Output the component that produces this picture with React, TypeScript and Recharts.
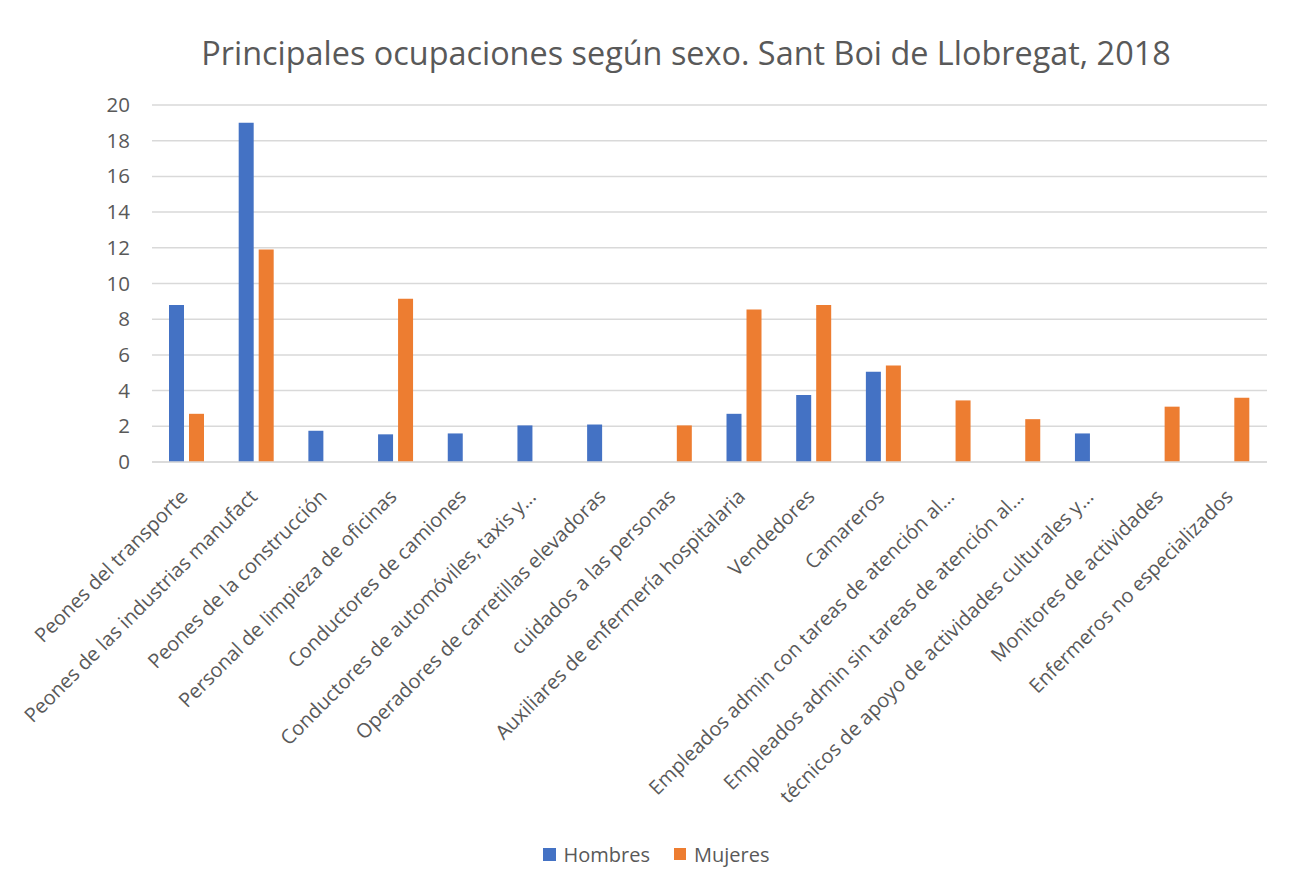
import React from 'react';
import { BarChart, Bar, XAxis, YAxis, CartesianGrid, Legend } from 'recharts';

const categories = [
  'Peones del transporte',
  'Peones de las industrias manufact',
  'Peones de la construcción',
  'Personal de limpieza de oficinas',
  'Conductores  de camiones',
  'Conductores de automóviles, taxis y...',
  'Operadores de carretillas elevadoras',
  'cuidados a las personas',
  'Auxiliares de enfermería hospitalaria',
  'Vendedores',
  'Camareros',
  'Empleados admin con tareas de atención al...',
  'Empleados admin sin tareas de atención al...',
  'técnicos de apoyo de actividades culturales y...',
  'Monitores de actividades',
  'Enfermeros no especializados',
];

const hombres: (number | null)[] = [8.8, 19, 1.75, 1.55, 1.6, 2.05, 2.1, null, 2.7, 3.75, 5.05, null, null, 1.6, null, null];
const mujeres: (number | null)[] = [2.7, 11.9, null, 9.15, null, null, null, 2.05, 8.55, 8.8, 5.4, 3.45, 2.4, null, 3.1, 3.6];

const yTicks = [0, 2, 4, 6, 8, 10, 12, 14, 16, 18, 20];

const seriesNames = { h: 'Hombres', m: 'Mujeres' };
const title = 'Principales ocupaciones según sexo. Sant Boi de Llobregat, 2018';

const data = categories.map((name, i) => ({ name, h: hombres[i], m: mujeres[i] }));

const FONT = '"Open Sans", sans-serif';
const TXT = '#595959';
const BLUE = '#4472C4';
const ORANGE = '#ED7D31';

const XTick = (props: any) => {
  const { x, y, payload } = props;
  return (
    <g transform={`translate(${x + 2},${y + 36})`}>
      <text x={0} y={0} textAnchor="end" transform="rotate(-45)" fill={TXT} fontSize={20} fontFamily={FONT}>
        {payload.value}
      </text>
    </g>
  );
};

const YTick = (props: any) => {
  const { x, y, payload } = props;
  return (
    <text x={x} y={y} dy={7} textAnchor="end" fill={TXT} fontSize={20.5} fontFamily={FONT}>
      {payload.value}
    </text>
  );
};

const LegendContent = () => (
  <div style={{ height: 30, display: 'flex', justifyContent: 'center', alignItems: 'center', paddingLeft: 18, fontFamily: FONT, fontSize: 20, color: TXT }}>
    <span style={{ display: 'inline-block', width: 13, height: 13, background: BLUE, marginRight: 8 }} />
    <span style={{ marginRight: 24 }}>{seriesNames.h}</span>
    <span style={{ display: 'inline-block', width: 12, height: 12, background: ORANGE, marginRight: 8 }} />
    <span>{seriesNames.m}</span>
  </div>
);

export default function App() {
  return (
    <div style={{ position: 'relative', width: 1294, height: 886, margin: -8, background: '#fff', overflow: 'hidden' }}>
      <div style={{ position: 'absolute', left: 5, top: 5, right: 0, bottom: 0, borderLeft: '2px solid #d9d9d9', borderTop: '2px solid #d9d9d9' }} />
      <div style={{ position: 'absolute', left: 78, top: 30, width: 1216, textAlign: 'center', fontFamily: FONT, fontSize: 32.4, lineHeight: '44px', color: TXT }}>
        {title}
      </div>
      <div style={{ position: 'absolute', left: 0, top: 0 }}>
        <BarChart width={1294} height={886} data={data} margin={{ top: 105, right: 27, left: 92, bottom: 64 }} barGap={5}>
          <CartesianGrid vertical={false} stroke="#d9d9d9" strokeWidth={1.5} />
          <XAxis dataKey="name" interval={0} height={330} tickLine={false} tickSize={0} tickMargin={0} axisLine={{ stroke: '#d9d9d9', strokeWidth: 1.5 }} tick={<XTick />} />
          <YAxis width={60} domain={[0, 20]} ticks={yTicks} axisLine={false} tickLine={false} tickSize={0} tickMargin={22} tick={<YTick />} />
          <Legend verticalAlign="bottom" content={<LegendContent />} wrapperStyle={{ top: 839, bottom: 'auto', left: 0, width: 1294 }} />
          <Bar dataKey="h" name={seriesNames.h} fill={BLUE} barSize={15} isAnimationActive={false} />
          <Bar dataKey="m" name={seriesNames.m} fill={ORANGE} barSize={15} isAnimationActive={false} />
        </BarChart>
      </div>
    </div>
  );
}
